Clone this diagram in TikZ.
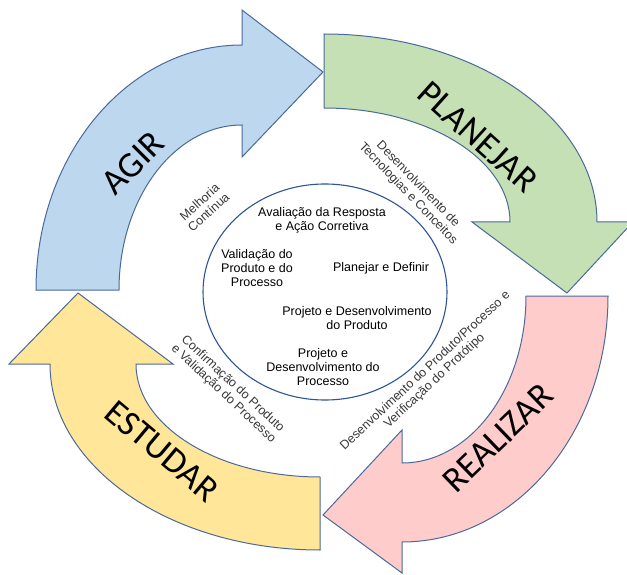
\documentclass[tikz,border=0pt]{standalone}
\usepackage{fontspec}
\setmainfont{Liberation Sans}
\newfontfamily\bigfont{Carlito}
\definecolor{outl}{HTML}{4A6A9C}
\definecolor{bluef}{HTML}{BDD7EE}
\definecolor{greenf}{HTML}{C5E0B4}
\definecolor{pinkf}{HTML}{FFCCCC}
\definecolor{yellowf}{HTML}{FFE699}
\definecolor{circ}{HTML}{2F5597}
\tikzset{
  arrowshape/.style={draw=outl, line width=1pt, line join=miter},
  biglabel/.style={font=\bigfont\fontsize{36}{40}\selectfont, inner sep=0pt},
  small/.style={font=\fontsize{12.5}{13.6}\selectfont, align=center, inner sep=0pt},
  arclabel/.style={small, text=black!78}
}
\begin{document}
\begin{tikzpicture}[x=1pt,y=-1pt]
\useasboundingbox (0,0) rectangle (627,575);
\clip (0,0) rectangle (627,575);
\fill[white] (0,0) rectangle (627,575);
% AGIR
\path[arrowshape, fill=bluef] (36,290) arc[start angle=180, end angle=270, x radius=206, y radius=245]
  -- (242,10) -- (323,72) -- (242,157) -- (242,125)
  arc[start angle=270, end angle=180, x radius=123, y radius=165] -- cycle;
% PLANEJAR
\path[arrowshape, fill=greenf] (324,34) arc[start angle=270, end angle=360, x radius=273, y radius=188]
  -- (633,222) -- (567,293) -- (472,222) -- (510,222)
  arc[start angle=360, end angle=270, x radius=186, y radius=114] -- cycle;
% REALIZAR
\path[arrowshape, fill=pinkf] (608,296) arc[start angle=0, end angle=90, x radius=206, y radius=246]
  -- (402,573) -- (323,515) -- (402,430) -- (402,463)
  arc[start angle=90, end angle=0, x radius=124, y radius=167] -- cycle;
% ESTUDAR
\path[arrowshape, fill=yellowf] (320,550) arc[start angle=90, end angle=180, x radius=270, y radius=186]
  -- (9,364) -- (78,293) -- (173,364) -- (136,364)
  arc[start angle=180, end angle=90, x radius=184, y radius=113] -- cycle;
% inner circle
\draw[circ, line width=1.1pt, fill=white] (325,292) ellipse [x radius=122, y radius=108];
% big labels
\node[biglabel, rotate=45] (agir) at (133,163) {AGIR};
\node[biglabel, rotate=-42] (planejar) at (478,137) {PLANEJAR};
\node[biglabel, rotate=44] (realizar) at (498,438) {REALIZAR};
\node[biglabel, rotate=-40] (estudar) at (162,451) {ESTUDAR};
% arc labels
\node[arclabel, rotate=42] (melhoria) at (204,207) {Melhoria\\Contínua};
\node[arclabel, rotate=-46] (tecno) at (413,189) {Desenvolvimento de\\Tecnologias e Conceitos};
\node[arclabel, rotate=43] (verif) at (430,376) {Desenvolvimento do Produto/Processo e\\Verificação do Protótipo};
\node[arclabel, rotate=-43] (confirm) at (228,389) {Confirmação do Produto\\e Validação do Processo};
% circle texts
\node[small] (aval) at (322,220) {Avaliação da Resposta\\e Ação Corretiva};
\node[small] (valid) at (257,268) {Validação do\\Produto e do\\Processo};
\node[small] (plan) at (381,268) {Planejar e Definir};
\node[small] (projprod) at (357,318) {Projeto e Desenvolvimento\\do Produto};
\node[small] (projproc) at (323,367) {Projeto e\\Desenvolvimento do\\Processo};
\end{tikzpicture}
\end{document}
